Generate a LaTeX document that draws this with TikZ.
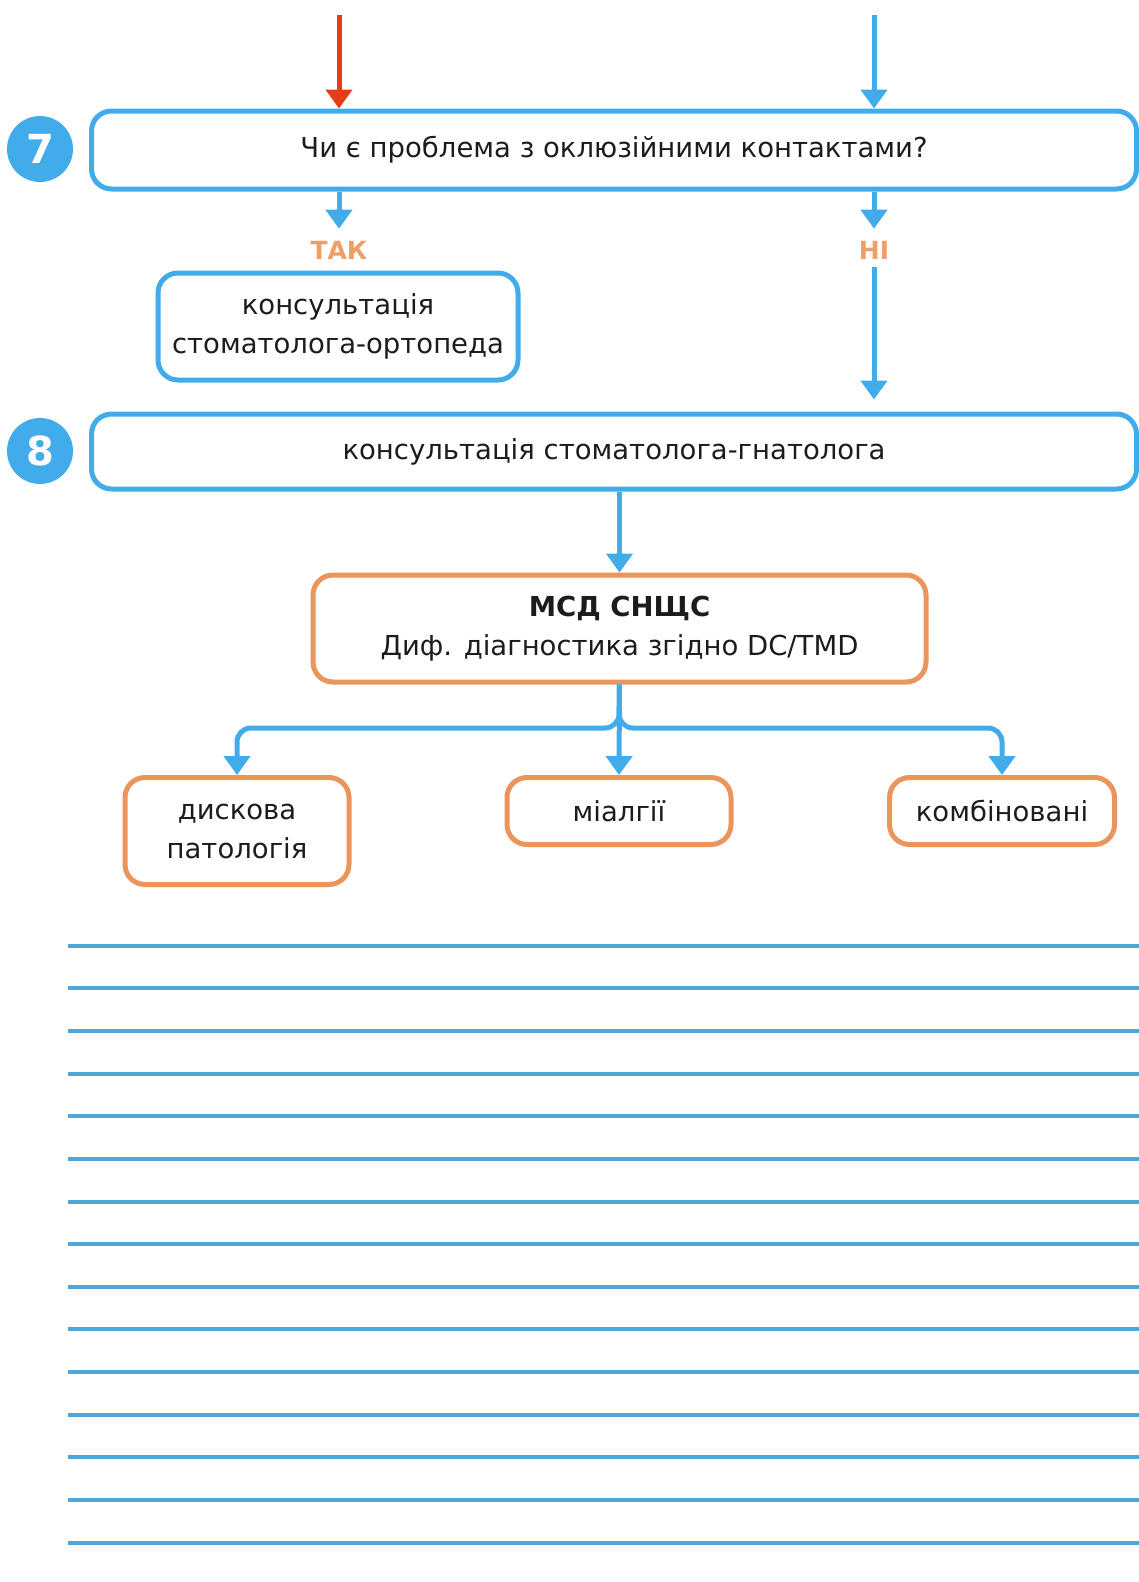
\documentclass[tikz,border=0pt]{standalone}
\usepackage{fontspec}
\setmainfont{DejaVu Sans}
\usepackage{xcolor}
\usetikzlibrary{positioning, arrows.meta}
\definecolor{skyblue}{HTML}{42ACEB}
\definecolor{lineblue}{HTML}{4DA6D8}
\definecolor{peach}{HTML}{E9955C}
\definecolor{peachtext}{HTML}{F09E68}
\definecolor{redarr}{HTML}{E53E14}
\definecolor{ink}{HTML}{1C1C1C}
\tikzset{
  bluebox/.style={draw=skyblue, line width=5pt, rounded corners=20pt, inner sep=0pt,
    text=ink, align=center, font=\fontsize{27.5}{39}\selectfont},
  orangebox/.style={bluebox, draw=peach},
  numcirc/.style={circle, fill=skyblue, minimum size=66pt, inner sep=0pt, text=white,
    font=\bfseries\fontsize{40}{40}\selectfont},
  answer/.style={text=peachtext, font=\bfseries\fontsize{25}{25}\selectfont, inner sep=2pt},
  blueline/.style={draw=skyblue, line width=5pt, -{Triangle[width=26pt,length=19pt]}},
  redline/.style={blueline, draw=redarr},
  ruled/.style={draw=lineblue, line width=4pt}
}

\begin{document}
\begin{tikzpicture}[x=1pt,y=-1pt]
\useasboundingbox (0,0) rectangle (1139,1582);

% step 7
\node[numcirc] (n7) at (40,149) {7};
\node[bluebox, minimum width=1045pt, minimum height=78pt] (q7) at (614,150)
  {Чи є проблема з оклюзійними контактами?};
\coordinate (redstart) at (339,15);
\coordinate (bluestart) at (874,15);
\draw[redline] (redstart) -- (redstart |- q7.north);
\draw[blueline] (bluestart) -- (bluestart |- q7.north);

% yes / no
\node[answer] (yes) at (339,250) {ТАК};
\node[answer] (no) at (874,250) {НІ};
\draw[blueline, shorten >=10pt] (yes |- q7.south) -- (yes.north);
\draw[blueline, shorten >=10pt] (no |- q7.south) -- (no.north);
\node[bluebox, minimum width=360pt, minimum height=107pt] (ortho) at (338,326.5)
  {консультація\\стоматолога-ортопеда};

% step 8
\node[numcirc] (n8) at (40,451) {8};
\node[bluebox, minimum width=1045pt, minimum height=75pt] (q8) at (614,451.5)
  {консультація стоматолога-гнатолога};
\draw[blueline, shorten <=6pt, shorten >=12pt] (no.south) -- (no |- q8.north);

% diagnosis
\node[orangebox, minimum width=613pt, minimum height=107pt] (msd) at (619.5,628.5)
  {\textbf{МСД СНЩС}\\Диф. діагностика згідно DC/TMD};
\draw[blueline] (msd |- q8.south) -- (msd.north);

\node[orangebox, minimum width=224pt, minimum height=107pt, anchor=north] (disc) at (237,775)
  {дискова\\патологія};
\node[orangebox, minimum width=224pt, minimum height=67pt, anchor=north] (myalg) at (619,775)
  {міалгії};
\node[orangebox, minimum width=225pt, minimum height=67pt, anchor=north] (combo) at (1002,775)
  {комбіновані};
\coordinate (split) at (619,728);
\draw[blueline, rounded corners=14pt] (msd.south) -- (split) -| (disc.north);
\draw[blueline, rounded corners=14pt] (msd.south) -- (split) -| (combo.north);
\draw[blueline] (msd.south) -- (myalg.north);

% ruled lines for notes
\foreach \i in {0,...,14}
  \draw[ruled] ({68},{945.7+42.64*\i}) -- ({1139},{945.7+42.64*\i});
\end{tikzpicture}
\end{document}
